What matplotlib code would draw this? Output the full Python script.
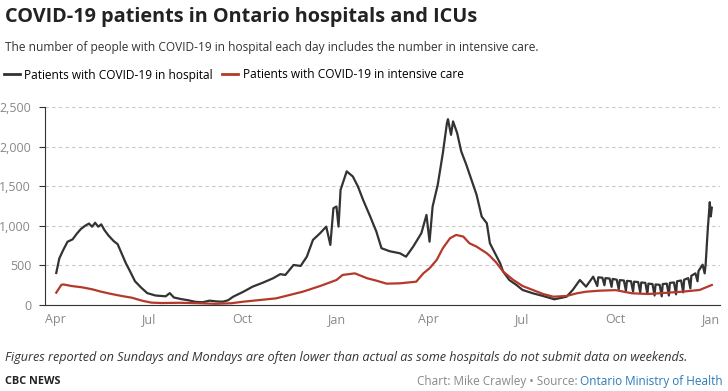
import matplotlib
matplotlib.use("Agg")
import matplotlib.pyplot as plt
from matplotlib.lines import Line2D
import pandas as pd

# Hospital patients
hosp_dates = [
    '2020-04-02', '2020-04-05', '2020-04-09', '2020-04-13', '2020-04-18', '2020-04-22',
    '2020-04-26', '2020-04-30', '2020-05-04', '2020-05-07', '2020-05-10', '2020-05-13',
    '2020-05-16', '2020-05-19', '2020-05-23', '2020-05-28', '2020-06-01', '2020-06-05',
    '2020-06-09', '2020-06-13', '2020-06-18', '2020-06-24', '2020-06-30', '2020-07-08',
    '2020-07-18', '2020-07-22', '2020-07-26', '2020-08-02', '2020-08-09', '2020-08-16',
    '2020-08-23', '2020-08-30', '2020-09-06', '2020-09-12', '2020-09-17', '2020-09-22',
    '2020-10-02', '2020-10-11', '2020-10-21', '2020-10-31', '2020-11-07', '2020-11-12',
    '2020-11-20', '2020-11-27', '2020-12-03', '2020-12-09', '2020-12-16', '2020-12-22',
    '2020-12-26', '2020-12-29', '2021-01-01', '2021-01-03', '2021-01-05', '2021-01-11',
    '2021-01-17', '2021-01-22', '2021-01-27', '2021-02-03', '2021-02-09', '2021-02-14',
    '2021-02-22', '2021-03-04', '2021-03-10', '2021-03-17', '2021-03-25', '2021-03-30',
    '2021-04-02', '2021-04-05', '2021-04-10', '2021-04-15', '2021-04-19', '2021-04-20',
    '2021-04-23', '2021-04-25', '2021-04-29', '2021-05-03', '2021-05-08', '2021-05-13',
    '2021-05-18', '2021-05-23', '2021-05-28', '2021-05-31', '2021-06-05', '2021-06-10',
    '2021-06-13', '2021-06-19', '2021-06-26', '2021-07-02', '2021-07-12', '2021-07-22',
    '2021-08-02', '2021-08-14', '2021-08-20', '2021-08-27', '2021-09-02', '2021-09-09',
    '2021-09-13', '2021-09-14', '2021-09-18', '2021-09-20', '2021-09-21', '2021-09-25',
    '2021-09-27', '2021-09-28', '2021-10-02', '2021-10-04', '2021-10-05', '2021-10-09',
    '2021-10-11', '2021-10-12', '2021-10-16', '2021-10-18', '2021-10-19', '2021-10-23',
    '2021-10-25', '2021-10-26', '2021-10-30', '2021-11-01', '2021-11-02', '2021-11-06',
    '2021-11-08', '2021-11-09', '2021-11-13', '2021-11-15', '2021-11-16', '2021-11-20',
    '2021-11-22', '2021-11-23', '2021-11-27', '2021-11-29', '2021-11-30', '2021-12-04',
    '2021-12-06', '2021-12-07', '2021-12-11', '2021-12-13', '2021-12-14', '2021-12-18',
    '2021-12-20', '2021-12-21', '2021-12-23', '2021-12-25', '2021-12-27', '2021-12-28',
    '2021-12-30', '2022-01-01', '2022-01-02', '2022-01-03',
]
hosp_vals = [
    405, 590, 700, 800, 830, 900,
    960, 1000, 1030, 990, 1040, 990,
    1020, 950, 880, 810, 770, 650,
    530, 430, 300, 220, 150, 120,
    110, 150, 95, 75, 60, 40,
    35, 55, 45, 42, 60, 105,
    168, 232, 282, 338, 390, 380,
    506, 494, 611, 823, 908, 991,
    760, 1224, 1245, 991, 1456, 1690,
    1625, 1498, 1330, 1118, 928, 718,
    680, 654, 611, 738, 908, 1139,
    801, 1245, 1519, 1920, 2300, 2350,
    2152, 2322, 2174, 1942, 1772, 1582,
    1393, 1118, 1034, 781, 654, 528,
    422, 316, 253, 190, 148, 114,
    72, 105, 190, 316, 232, 358,
    240, 350, 345, 250, 340, 335,
    230, 330, 320, 200, 315, 310,
    180, 305, 300, 170, 295, 290,
    160, 285, 280, 140, 270, 265,
    120, 260, 255, 110, 265, 270,
    120, 280, 285, 135, 300, 310,
    160, 320, 340, 210, 370, 400,
    300, 430, 470, 510, 400, 520,
    950, 1300, 1120, 1230,
]

# ICU patients
icu_dates = [
    '2020-04-02', '2020-04-07', '2020-04-09', '2020-04-17', '2020-04-27', '2020-05-07',
    '2020-05-16', '2020-05-26', '2020-06-05', '2020-06-15', '2020-06-25', '2020-07-04',
    '2020-07-14', '2020-08-01', '2020-08-20', '2020-09-05', '2020-09-20', '2020-10-02',
    '2020-10-18', '2020-11-03', '2020-11-16', '2020-11-29', '2020-12-16', '2021-01-01',
    '2021-01-07', '2021-01-19', '2021-01-31', '2021-02-09', '2021-02-19', '2021-03-04',
    '2021-03-20', '2021-03-27', '2021-04-02', '2021-04-09', '2021-04-15', '2021-04-22',
    '2021-04-28', '2021-05-05', '2021-05-11', '2021-05-18', '2021-05-28', '2021-05-31',
    '2021-06-06', '2021-06-13', '2021-06-23', '2021-07-02', '2021-07-12', '2021-07-22',
    '2021-08-01', '2021-08-14', '2021-08-24', '2021-09-02', '2021-09-15', '2021-10-01',
    '2021-10-17', '2021-11-02', '2021-12-05', '2021-12-22', '2022-01-03',
]
icu_vals = [
    156, 255, 260, 240, 224, 199,
    168, 139, 114, 92, 54, 30,
    25, 28, 22, 15, 22, 42,
    63, 84, 126, 168, 240, 316,
    380, 400, 338, 308, 270, 274,
    295, 401, 464, 570, 718, 844,
    886, 865, 781, 738, 654, 620,
    540, 422, 316, 240, 190, 139,
    105, 114, 148, 168, 181, 188,
    148, 139, 168, 190, 253,
]

y_ticks = [0, 500, 1000, 1500, 2000, 2500]
x_ticks = ['2020-04-01', '2020-07-01', '2020-10-01', '2021-01-01',
           '2021-04-01', '2021-07-01', '2021-10-01', '2022-01-01']
x_tick_labels = ['Apr', 'Jul', 'Oct', 'Jan', 'Apr', 'Jul', 'Oct', 'Jan']

hosp_col = '#333333'
icu_col = '#b5392b'
narrow = ['Liberation Sans Narrow', 'Open Sans', 'DejaVu Sans']

fig = plt.figure(figsize=(7.28, 3.91), dpi=100)
ax = fig.add_axes([45/728, 1 - 305/391, 675/728, (305 - 107.3)/391])

ax.plot(pd.to_datetime(hosp_dates), hosp_vals, color=hosp_col, lw=1.6)
ax.plot(pd.to_datetime(icu_dates), icu_vals, color=icu_col, lw=1.6)

ax.set_ylim(0, 2500)
ax.set_xlim(pd.Timestamp('2020-03-22'), pd.Timestamp('2022-01-11'))
ax.set_yticks(y_ticks)
ax.set_yticklabels([f'{v:,}' for v in y_ticks])
ax.set_xticks(pd.to_datetime(x_ticks))
ax.set_xticklabels(x_tick_labels)

ax.grid(axis='y', color='#c8c8c8', linestyle=(0, (3, 3)), lw=0.8)
ax.set_axisbelow(True)
for s in ['top', 'right']:
    ax.spines[s].set_visible(False)
ax.spines['left'].set_color('#333333')
ax.spines['bottom'].set_color('#333333')
ax.tick_params(axis='y', length=4, color='#333333', labelcolor='#888888',
               labelsize=9, pad=6)
ax.tick_params(axis='x', length=0, labelcolor='#888888', labelsize=9, pad=6)
for lab in ax.get_xticklabels() + ax.get_yticklabels():
    lab.set_family('Open Sans')

# header
fig.text(5/728, 1 - 17/391, 'COVID-19 patients in Ontario hospitals and ICUs',
         family=narrow, weight='bold', fontsize=14.3, color='#222222', va='center')
fig.text(5/728, 1 - 47/391,
         'The number of people with COVID-19 in hospital each day includes the number in intensive care.',
         family=narrow, fontsize=8.6, color='#333333', va='center')

handles = [Line2D([], [], color=hosp_col, lw=2), Line2D([], [], color=icu_col, lw=2)]
fig.legend(handles, ['Patients with COVID-19 in hospital', 'Patients with COVID-19 in intensive care'],
           loc='center left', bbox_to_anchor=(4/728, 1 - 75/391), ncol=2, frameon=False,
           handlelength=1.3, handletextpad=0.4, columnspacing=0.8, borderpad=0,
           borderaxespad=0, prop={'family': narrow, 'size': 8.6})

# footer
fig.text(5/728, 1 - 357/391,
         'Figures reported on Sundays and Mondays are often lower than actual as some hospitals do not submit data on weekends.',
         family=narrow, style='italic', fontsize=9.1, color='#333333', va='center')
fig.text(5/728, 1 - 381/391, 'CBC NEWS', family=narrow, weight='bold',
         fontsize=7.8, color='#222222', va='center')
src = fig.text(723/728, 1 - 381/391, 'Ontario Ministry of Health', family=narrow,
               fontsize=8.5, color='#2b7bb9', va='center', ha='right')
fig.canvas.draw()
bb = src.get_window_extent()
fig.text(bb.x0 / fig.bbox.width, 1 - 381/391, 'Chart: Mike Crawley \u2022 Source: ',
         family=narrow, fontsize=8.5, color='#888888', va='center', ha='right')

fig.savefig('out.png', dpi=100)
